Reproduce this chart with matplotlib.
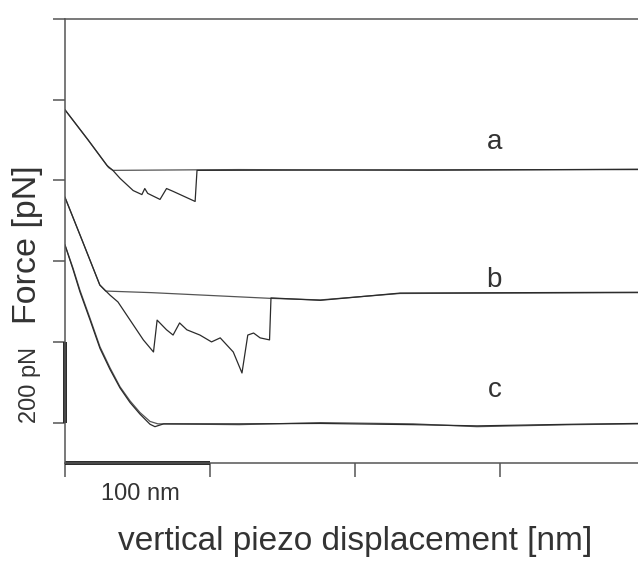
import matplotlib.pyplot as plt

plt.rcParams['font.family'] = ['Liberation Sans', 'DejaVu Sans']

# Curve a (pN vs nm)
a_app_x = [0, 16, 30, 33, 120, 250, 395]
a_app_y = [775, 700, 632, 625, 627, 625, 628]
a_ret_x = [0, 16, 29, 33, 38, 47, 53, 55, 57, 65.5, 70, 74.5, 89.7, 91, 200, 395]
a_ret_y = [775, 700, 637, 625, 605, 575, 565, 580, 568, 553, 580, 573, 548, 625, 626, 627]

# Curve b
b_app_x = [0, 12, 24, 28, 60, 141, 176, 231, 395]
b_app_y = [558, 450, 341, 326, 322, 308, 304, 320, 322]
b_ret_x = [0, 12, 24, 31, 36.5, 54, 61, 63.5, 70, 74.5, 79, 84, 93, 101, 107,
           116, 122, 126, 130, 134.5, 141, 142, 176, 231, 395]
b_ret_y = [558, 450, 341, 316, 299, 205, 175, 254, 230, 217, 247, 230, 217, 200, 210,
           175, 123, 217, 222, 210, 205, 309, 303, 321, 323]

# Curve c
c_app_x = [0, 5.5, 10.3, 17.2, 24.1, 31, 37.9, 44.8, 51.7, 58.6, 64, 120, 176, 240, 284, 350, 395]
c_app_y = [440, 383, 328, 259, 188, 136, 89, 54, 25, 3, -3, -5, 0, -3, -10, -5, -3]
c_ret_x = [0, 5.5, 10.3, 17.2, 24.1, 31, 37.9, 44.8, 51.7, 58.6, 62, 68, 120, 176, 240, 284, 350, 395]
c_ret_y = [440, 380, 324, 255, 184, 132, 86, 50, 21, -4, -10, -3, -3, -2, -5, -8, -4, -2]

labels = ['a', 'b', 'c']
label_y = [679, 336, 64]

fig = plt.figure(figsize=(6.38, 5.61), dpi=100)
ax = fig.add_axes([65/638, 98/561, 573/638, 444/561])

col = '#2b2b2b'
ax.plot(a_app_x, a_app_y, color='#555555', lw=0.9)
ax.plot(a_ret_x, a_ret_y, color=col, lw=0.9)
ax.plot(b_app_x, b_app_y, color='#555555', lw=0.9)
ax.plot(b_ret_x, b_ret_y, color=col, lw=0.9)
ax.plot(c_app_x, c_app_y, color='#555555', lw=0.9)
ax.plot(c_ret_x, c_ret_y, color=col, lw=0.9)

for lab, ly in zip(labels, label_y):
    ax.text(296, ly, lab, fontsize=20, ha='center', va='baseline', color='#333333')

ax.set_xlim(0, 395)
ax.set_ylim(-100, 1000)

# scale bars
ax.plot([0, 100], [-100, -100], color='#222222', lw=2.8, clip_on=False, solid_capstyle='butt')
ax.plot([0, 0], [0, 200], color='#222222', lw=2.8, clip_on=False, solid_capstyle='butt')
ax.text(51.7, -178, '100 nm', fontsize=17, ha='center', va='center', color='#333333')
ax.text(-24, 94, '200 pN', fontsize=17, rotation=90, ha='center', va='center',
        color='#333333', clip_on=False)

ax.set_xticks([0, 100, 200, 300])
ax.set_yticks([0, 200, 400, 600, 800, 1000])
ax.set_xticklabels([])
ax.set_yticklabels([])
ax.tick_params(axis='x', direction='out', length=10, width=1.1, color='#555555')
ax.tick_params(axis='y', direction='out', length=8.6, width=1.1, color='#555555')
for s in ['left', 'bottom', 'top']:
    ax.spines[s].set_color('#555555')
    ax.spines[s].set_linewidth(1.1)
ax.spines['right'].set_visible(False)

fig.text(355.5/638, 1 - 550/561, 'vertical piezo displacement [nm]', fontsize=24,
         ha='center', va='baseline', color='#333333')
fig.text(28/638, 1 - 245/561, 'Force [pN]', fontsize=24.5, rotation=90,
         ha='center', va='center', color='#333333')

fig.savefig('out.png', dpi=100)
